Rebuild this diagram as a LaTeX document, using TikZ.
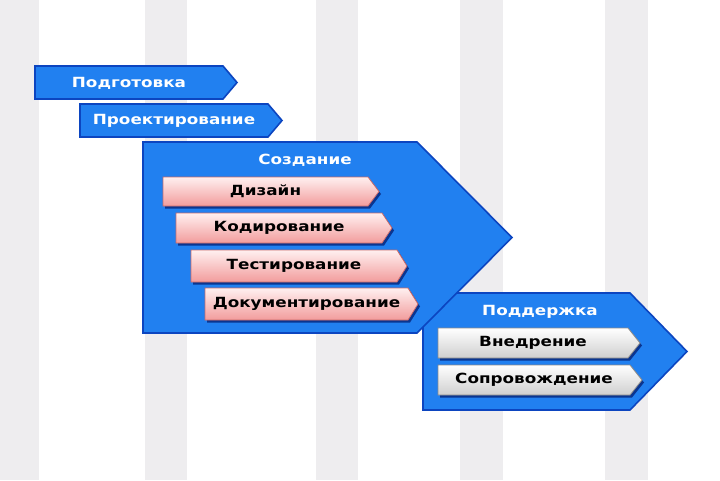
\documentclass[tikz,border=0pt]{standalone}
\usepackage{fontspec}
\newfontfamily\lab[FakeStretch=1.2]{DejaVu Sans}
\definecolor{stripe}{HTML}{EEEDEF}
\definecolor{bfill}{HTML}{2180F0}
\definecolor{bedge}{HTML}{0C45C0}
\definecolor{pinktop}{HTML}{FFF0F0}
\definecolor{pinkbot}{HTML}{F29C9C}
\definecolor{pinkedge}{HTML}{C86A6A}
\definecolor{graybot}{HTML}{CFCFCF}
\definecolor{grayedge}{HTML}{8A8A8A}
\definecolor{shadowc}{HTML}{0A3590}
\newcommand\pent[5]{(#1,#2) -- (#3,#2) -- (#4,{(#2+#5)/2}) -- (#3,#5) -- (#1,#5) -- cycle}
\tikzset{
  x=1pt, y=-1pt,
  bluebox/.style={fill=bfill, draw=bedge, line width=1.6pt, line join=miter},
  pinkbox/.style={top color=pinktop, bottom color=pinkbot, draw=pinkedge, line width=0.8pt},
  graybox/.style={top color=white, bottom color=graybot, draw=grayedge, line width=0.8pt},
  shadowbox/.style={fill=shadowc, shift={(2,2.5)}},
  lbl/.style={font=\lab\bfseries\fontsize{14}{14}\selectfont, inner sep=0pt, anchor=center},
  wlbl/.style={lbl, text=white},
  klbl/.style={lbl, text=black}
}
\begin{document}
\begin{tikzpicture}
\useasboundingbox (0,0) rectangle (720,480);
\fill[white] (0,0) rectangle (720,480);
% stripes
\foreach \a/\b in {0/39,145/187,316/358,460/503,605/648}
  \fill[stripe] (\a,0) rectangle (\b,480);
% top phases
\draw[bluebox] \pent{35}{66}{223}{237}{99};
\node[wlbl] (podg) at (129,83) {Подготовка};
\draw[bluebox] \pent{80}{104}{268}{282}{137};
\node[wlbl] (proekt) at (174,121) {Проектирование};
% support phase
\draw[bluebox] \pent{423}{293}{630}{687}{410};
\node[wlbl] (podd) at (540,312) {Поддержка};
% creation phase
\draw[bluebox] \pent{143}{142}{417}{512}{333};
\node[wlbl] (sozd) at (305,160) {Создание};
% creation items
\fill[shadowbox] \pent{163}{177}{368}{379}{206};
\draw[pinkbox] \pent{163}{177}{368}{379}{206};
\node[klbl] (diz) at (265.5,191.5) {Дизайн};
\fill[shadowbox] \pent{176}{213}{382}{392}{243};
\draw[pinkbox] \pent{176}{213}{382}{392}{243};
\node[klbl] (kod) at (279,228) {Кодирование};
\fill[shadowbox] \pent{191}{250}{397}{407}{282};
\draw[pinkbox] \pent{191}{250}{397}{407}{282};
\node[klbl] (test) at (294,266) {Тестирование};
\fill[shadowbox] \pent{205}{288}{408}{418}{320};
\draw[pinkbox] \pent{205}{288}{408}{418}{320};
\node[klbl] (dok) at (306.5,304) {Документирование};
% support items
\fill[shadowbox] \pent{438}{328}{628}{640}{358};
\draw[graybox] \pent{438}{328}{628}{640}{358};
\node[klbl] (vned) at (533,343) {Внедрение};
\fill[shadowbox] \pent{438}{365}{630}{642}{395};
\draw[graybox] \pent{438}{365}{630}{642}{395};
\node[klbl] (sopr) at (534,380) {Сопровождение};
\end{tikzpicture}
\end{document}
